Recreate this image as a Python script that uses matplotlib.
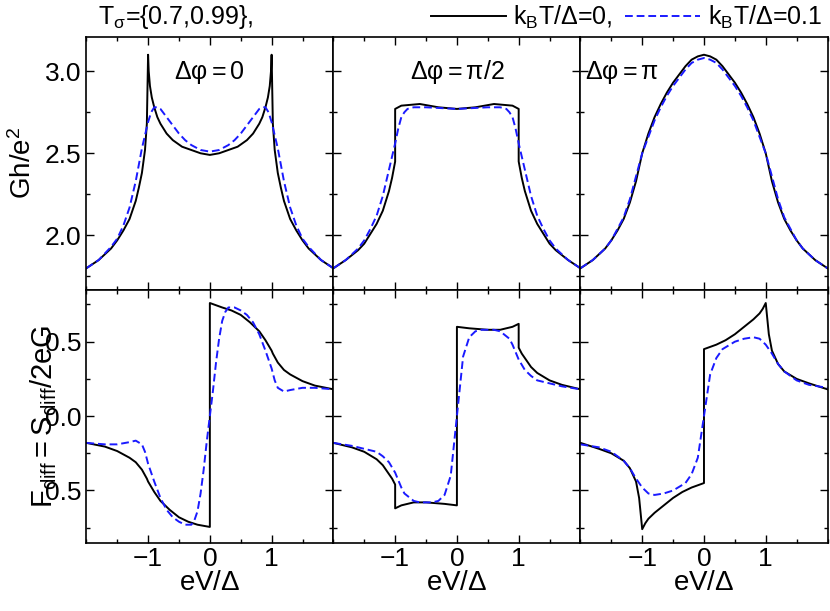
import matplotlib
matplotlib.use("Agg")
import matplotlib.pyplot as plt
from matplotlib.ticker import MultipleLocator

plt.rcParams["font.family"] = ["Liberation Sans", "DejaVu Sans"]
plt.rcParams["mathtext.fontset"] = "custom"
plt.rcParams["mathtext.rm"] = "Liberation Sans"
plt.rcParams["mathtext.it"] = "Liberation Sans"

# ---- conductance, top row: (x, y) per phase, T=0 (black) and kT=0.1 (blue) ----
g0_x = [-2, -1.8, -1.6, -1.5, -1.4, -1.3, -1.2, -1.15, -1.1, -1.05, -1.02, -1.0, -0.99, -0.97, -0.94,
        -0.9, -0.85, -0.8, -0.7, -0.6, -0.45, -0.3, -0.15, 0,
        0.15, 0.3, 0.45, 0.6, 0.7, 0.8, 0.85, 0.9, 0.94, 0.97, 0.99, 1.0, 1.02, 1.05, 1.1, 1.15, 1.2,
        1.3, 1.4, 1.5, 1.6, 1.8, 2]
g0_k = [1.80, 1.85, 1.92, 1.97, 2.03, 2.10, 2.21, 2.29, 2.38, 2.52, 2.68, 3.10, 3.00, 2.91, 2.84,
        2.78, 2.72, 2.68, 2.62, 2.58, 2.54, 2.52, 2.50, 2.49,
        2.50, 2.52, 2.54, 2.58, 2.62, 2.68, 2.72, 2.78, 2.84, 2.91, 3.00, 3.10, 2.68, 2.52, 2.38, 2.29,
        2.21, 2.10, 2.03, 1.97, 1.92, 1.85, 1.80]
g0_bx = [-2, -1.8, -1.6, -1.5, -1.4, -1.3, -1.2, -1.1, -1.0, -0.95, -0.9, -0.85, -0.8, -0.7, -0.6,
         -0.5, -0.4, -0.3, -0.15, 0,
         0.15, 0.3, 0.4, 0.5, 0.6, 0.7, 0.8, 0.85, 0.9, 0.95, 1.0, 1.1, 1.2, 1.3, 1.4, 1.5, 1.6, 1.8, 2]
g0_b = [1.80, 1.85, 1.93, 1.98, 2.06, 2.17, 2.33, 2.53, 2.69, 2.75, 2.78, 2.78, 2.77, 2.72, 2.67,
        2.62, 2.58, 2.55, 2.52, 2.51,
        2.52, 2.55, 2.58, 2.62, 2.67, 2.72, 2.77, 2.78, 2.78, 2.75, 2.69, 2.53, 2.33, 2.17, 2.06,
        1.98, 1.93, 1.85, 1.80]

g1_x = [-2, -1.8, -1.6, -1.5, -1.4, -1.3, -1.2, -1.1, -1.05, -1.0, -1.0, -0.9, -0.6, -0.3, 0,
        0.3, 0.6, 0.9, 1.0, 1.0, 1.05, 1.1, 1.2, 1.3, 1.4, 1.5, 1.6, 1.8, 2]
g1_k = [1.80, 1.85, 1.91, 1.95, 2.01, 2.07, 2.15, 2.27, 2.35, 2.45, 2.77, 2.79, 2.80, 2.78, 2.77,
        2.78, 2.80, 2.79, 2.77, 2.45, 2.35, 2.27, 2.15, 2.07, 2.01, 1.95, 1.91, 1.85, 1.80]
g1_bx = [-2, -1.8, -1.6, -1.5, -1.4, -1.3, -1.2, -1.1, -1.0, -0.95, -0.9, -0.85, -0.8, -0.7, -0.5, 0,
         0.5, 0.7, 0.8, 0.85, 0.9, 0.95, 1.0, 1.1, 1.2, 1.3, 1.4, 1.5, 1.6, 1.8, 2]
g1_b = [1.80, 1.85, 1.92, 1.97, 2.04, 2.12, 2.24, 2.40, 2.56, 2.65, 2.72, 2.75, 2.77, 2.78, 2.78, 2.77,
        2.78, 2.78, 2.77, 2.75, 2.72, 2.65, 2.56, 2.40, 2.24, 2.12, 2.04, 1.97, 1.92, 1.85, 1.80]

g2_x = [-2, -1.8, -1.6, -1.5, -1.4, -1.3, -1.2, -1.1, -1.0, -0.9, -0.8, -0.7, -0.6, -0.5, -0.4, -0.3,
        -0.2, -0.1, 0, 0.1, 0.2, 0.3, 0.4, 0.5, 0.6, 0.7, 0.8, 0.9, 1.0, 1.1, 1.2, 1.3, 1.4, 1.5, 1.6,
        1.8, 2]
g2_k = [1.80, 1.85, 1.92, 1.97, 2.03, 2.10, 2.20, 2.33, 2.50, 2.62, 2.72, 2.80, 2.87, 2.93, 2.98, 3.03,
        3.07, 3.09, 3.10, 3.09, 3.07, 3.03, 2.98, 2.93, 2.87, 2.80, 2.72, 2.62, 2.50, 2.33, 2.20, 2.10,
        2.03, 1.97, 1.92, 1.85, 1.80]
g2_b = [1.80, 1.85, 1.92, 1.97, 2.04, 2.11, 2.22, 2.36, 2.50, 2.60, 2.70, 2.78, 2.85, 2.91, 2.96, 3.01,
        3.05, 3.07, 3.08, 3.07, 3.05, 3.01, 2.96, 2.91, 2.85, 2.78, 2.70, 2.60, 2.50, 2.36, 2.22, 2.11,
        2.04, 1.97, 1.92, 1.85, 1.80]

# ---- Fano factor, bottom row ----
f0_x = [-2, -1.7, -1.5, -1.3, -1.2, -1.1, -1.02, -1.0, -0.9, -0.8, -0.65, -0.5, -0.35, -0.2, 0, 0,
        0.2, 0.35, 0.5, 0.65, 0.8, 0.9, 1.0, 1.02, 1.1, 1.2, 1.3, 1.5, 1.7, 2]
f0_k = [-0.18, -0.205, -0.235, -0.28, -0.31, -0.36, -0.42, -0.44, -0.51, -0.57, -0.63, -0.68, -0.71,
        -0.73, -0.745, 0.76, 0.73, 0.71, 0.68, 0.63, 0.57, 0.51, 0.44, 0.42, 0.36, 0.31, 0.28, 0.235,
        0.205, 0.18]
f0_bx = [-2, -1.7, -1.5, -1.3, -1.2, -1.1, -1.05, -1.0, -0.9, -0.8, -0.7, -0.6, -0.5, -0.4, -0.3,
         -0.25, -0.2, -0.15, -0.1, -0.05, 0,
         0.05, 0.1, 0.15, 0.2, 0.25, 0.3, 0.4, 0.5, 0.6, 0.7, 0.8, 0.9, 1.0, 1.05, 1.1, 1.2, 1.3, 1.5,
         1.7, 2]
f0_b = [-0.18, -0.19, -0.19, -0.175, -0.165, -0.19, -0.24, -0.32, -0.44, -0.55, -0.63, -0.68, -0.71,
        -0.73, -0.73, -0.70, -0.64, -0.52, -0.36, -0.17, 0.0,
        0.17, 0.36, 0.52, 0.64, 0.70, 0.73, 0.73, 0.71, 0.68, 0.63, 0.55, 0.44, 0.32, 0.24, 0.19,
        0.165, 0.175, 0.19, 0.19, 0.18]

f1_x = [-2, -1.7, -1.5, -1.3, -1.2, -1.1, -1.05, -1.0, -1.0, -0.9, -0.7, -0.5, -0.2, 0, 0,
        0.2, 0.5, 0.7, 0.9, 1.0, 1.0, 1.05, 1.1, 1.2, 1.3, 1.5, 1.7, 2]
f1_k = [-0.18, -0.21, -0.24, -0.29, -0.33, -0.39, -0.42, -0.46, -0.62, -0.60, -0.58, -0.58, -0.59,
        -0.60, 0.60, 0.59, 0.58, 0.58, 0.60, 0.62, 0.46, 0.42, 0.39, 0.33, 0.29, 0.24, 0.21, 0.18]
f1_bx = [-2, -1.7, -1.5, -1.3, -1.2, -1.1, -1.0, -0.9, -0.85, -0.7, -0.6, -0.4, -0.3, -0.2, -0.1, 0,
         0.1, 0.2, 0.3, 0.4, 0.6, 0.7, 0.85, 0.9, 1.0, 1.1, 1.2, 1.3, 1.5, 1.7, 2]
f1_b = [-0.18, -0.20, -0.22, -0.24, -0.27, -0.31, -0.38, -0.48, -0.52, -0.57, -0.58, -0.58, -0.57,
        -0.53, -0.40, 0.0, 0.40, 0.53, 0.57, 0.58, 0.58, 0.57, 0.52, 0.48, 0.38, 0.31, 0.27, 0.24,
        0.22, 0.20, 0.18]

f2_x = [-2, -1.7, -1.5, -1.3, -1.2, -1.1, -1.05, -1.0, -0.95, -0.9, -0.8, -0.65, -0.5, -0.35, -0.2, 0,
        0, 0.2, 0.35, 0.5, 0.65, 0.8, 0.9, 0.95, 1.0, 1.05, 1.1, 1.2, 1.3, 1.5, 1.7, 2]
f2_k = [-0.18, -0.22, -0.25, -0.30, -0.35, -0.44, -0.55, -0.76, -0.72, -0.69, -0.65, -0.60, -0.55,
        -0.51, -0.48, -0.45, 0.45, 0.48, 0.51, 0.55, 0.60, 0.65, 0.69, 0.72, 0.76, 0.55, 0.44, 0.35,
        0.30, 0.25, 0.22, 0.18]
f2_bx = [-2, -1.7, -1.5, -1.3, -1.2, -1.1, -1.0, -0.9, -0.8, -0.65, -0.5, -0.3, -0.2, -0.1, 0,
         0.1, 0.2, 0.3, 0.5, 0.65, 0.8, 0.9, 1.0, 1.1, 1.2, 1.3, 1.5, 1.7, 2]
f2_b = [-0.19, -0.21, -0.24, -0.30, -0.35, -0.42, -0.48, -0.52, -0.53, -0.52, -0.50, -0.45, -0.39,
        -0.28, 0.0, 0.28, 0.39, 0.45, 0.50, 0.52, 0.53, 0.52, 0.48, 0.42, 0.35, 0.30, 0.24, 0.21, 0.19]

phase_labels = [r"$\Delta\varphi = 0$", r"$\Delta\varphi = \pi/2$", r"$\Delta\varphi = \pi$"]
label_pos = [(0.5, 0.86), (0.5, 0.86), (0.02, 0.86)]
label_ha = ["center", "center", "left"]

top_data = [(g0_x, g0_k, g0_bx, g0_b), (g1_x, g1_k, g1_bx, g1_b), (g2_x, g2_k, g2_x, g2_b)]
bot_data = [(f0_x, f0_k, f0_bx, f0_b), (f1_x, f1_k, f1_bx, f1_b), (f2_x, f2_k, f2_bx, f2_b)]

fig, axes = plt.subplots(2, 3, figsize=(8.3, 6.11), dpi=100, sharex=True)
fig.subplots_adjust(left=0.104, right=0.997, top=0.94, bottom=0.112, wspace=0, hspace=0)

for row, data in enumerate([top_data, bot_data]):
    for col, (xk, yk, xb, yb) in enumerate(data):
        ax = axes[row, col]
        ax.plot(xk, yk, color="black", lw=1.4, label=r"k$_\mathrm{B}$T/$\Delta$=0,")
        ax.plot(xb, yb, color="#1a1aff", lw=1.4, ls=(0, (4, 2)), label=r"k$_\mathrm{B}$T/$\Delta$=0.1")
        ax.set_xlim(-2, 2)
        ax.xaxis.set_major_locator(MultipleLocator(1))
        ax.xaxis.set_minor_locator(MultipleLocator(0.5))
        if row == 0:
            ax.set_ylim(1.67, 3.21)
            ax.set_yticks([2.0, 2.5, 3.0])
            ax.yaxis.set_minor_locator(MultipleLocator(0.25))
            px, py = label_pos[col]
            ax.text(px, py, phase_labels[col], transform=ax.transAxes, ha=label_ha[col],
                    va="center", fontsize=18)
        else:
            ax.set_ylim(-0.85, 0.85)
            ax.set_yticks([-0.5, 0.0, 0.5])
            ax.yaxis.set_minor_locator(MultipleLocator(0.25))
            ax.set_xticks([-1, 0, 1])
            ax.set_xlabel(r"eV/$\Delta$", fontsize=20, labelpad=-1)
        ax.tick_params(which="both", direction="in", top=True, right=True, labelsize=19, width=1)
        ax.tick_params(which="major", length=6)
        ax.tick_params(which="minor", length=3)
        if col > 0:
            ax.tick_params(labelleft=False)
        for s in ax.spines.values():
            s.set_linewidth(1.2)

axes[1, 0].set_yticklabels(["0.5", "0.0", "0.5"])
axes[0, 0].set_ylabel(r"Gh/e$^2$", fontsize=20, labelpad=6)
axes[1, 0].set_ylabel(r"$\mathrm{F_{diff}=S_{diff}/2eG}$", fontsize=21, labelpad=-10)

fig.text(0.118, 0.972, r"T$_\sigma$={0.7,0.99},", fontsize=18, va="center")
handles, labels = axes[0, 0].get_legend_handles_labels()
fig.legend(handles, labels, loc="center right", bbox_to_anchor=(0.99, 0.972), ncol=2,
           frameon=False, fontsize=18, handlelength=3.0, columnspacing=0.5, handletextpad=0.3,
           borderaxespad=0, borderpad=0)

fig.savefig("out.png", dpi=100)
